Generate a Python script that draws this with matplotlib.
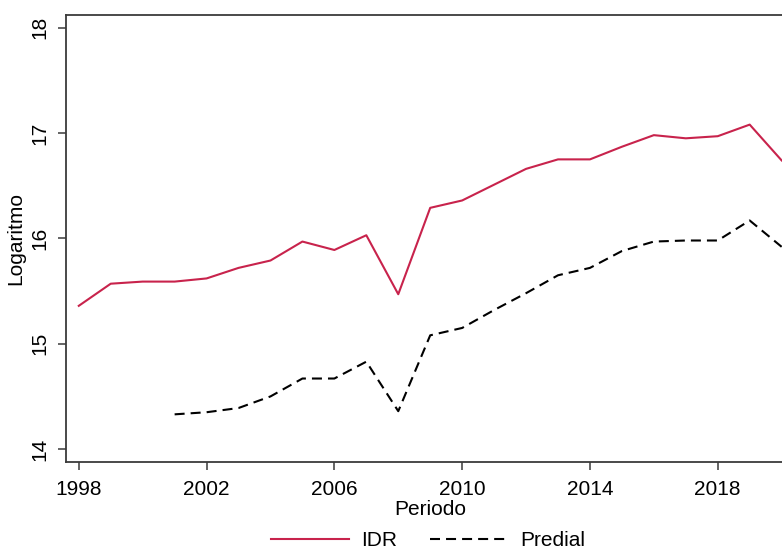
import matplotlib
matplotlib.use('agg')
import matplotlib.pyplot as plt

plt.rcParams['font.family'] = ['Liberation Sans', 'DejaVu Sans']

# yearly series (log scale values)
years_idr = list(range(1998, 2021))
idr = [15.36, 15.57, 15.59, 15.59, 15.62, 15.72, 15.79, 15.97, 15.89, 16.03,
       15.47, 16.29, 16.36, 16.51, 16.66, 16.75, 16.75, 16.87, 16.98, 16.95,
       16.97, 17.08, 16.74]

years_predial = list(range(2001, 2021))
predial = [14.33, 14.35, 14.39, 14.50, 14.67, 14.67, 14.83, 14.36, 15.08, 15.15,
           15.32, 15.48, 15.65, 15.72, 15.88, 15.97, 15.98, 15.98, 16.17, 15.92]

xticks = [1998, 2002, 2006, 2010, 2014, 2018]
yticks = [14, 15, 16, 17, 18]

fig = plt.figure(figsize=(7.82, 5.57), dpi=100)
ax = fig.add_axes([0.0844, 0.171, 0.956, 0.802])

ax.plot(years_idr, idr, color='#C8234C', lw=1.5, label='IDR')
ax.plot(years_predial, predial, color='black', lw=1.5, dashes=(4.8, 2.9), label='Predial')

ax.set_xlim(1997.6, 2021)
ax.set_ylim(13.88, 18.12)
ax.set_xticks(xticks)
ax.set_yticks(yticks)
ax.set_yticklabels([str(t) for t in yticks], rotation=90, va='center')

for side in ['left', 'bottom', 'top', 'right']:
    ax.spines[side].set_color('#3a3a3a')
    ax.spines[side].set_linewidth(1.3)
ax.tick_params(axis='both', labelsize=15, length=6, width=1.1, color='#3a3a3a')
ax.tick_params(axis='x', pad=7)
ax.tick_params(axis='y', pad=6)

ax.set_xlabel('Periodo', fontsize=15)
ax.xaxis.set_label_coords(0.487, -0.085)
ax.set_ylabel('Logaritmo', fontsize=15, labelpad=4)

fig.legend(loc='center', bbox_to_anchor=(428 / 782, 1 - 541 / 557), ncol=2,
           frameon=False, fontsize=15, handlelength=3.75, handletextpad=0.6,
           columnspacing=1.55)

fig.savefig('out.png', dpi=100)
plt.close(fig)
